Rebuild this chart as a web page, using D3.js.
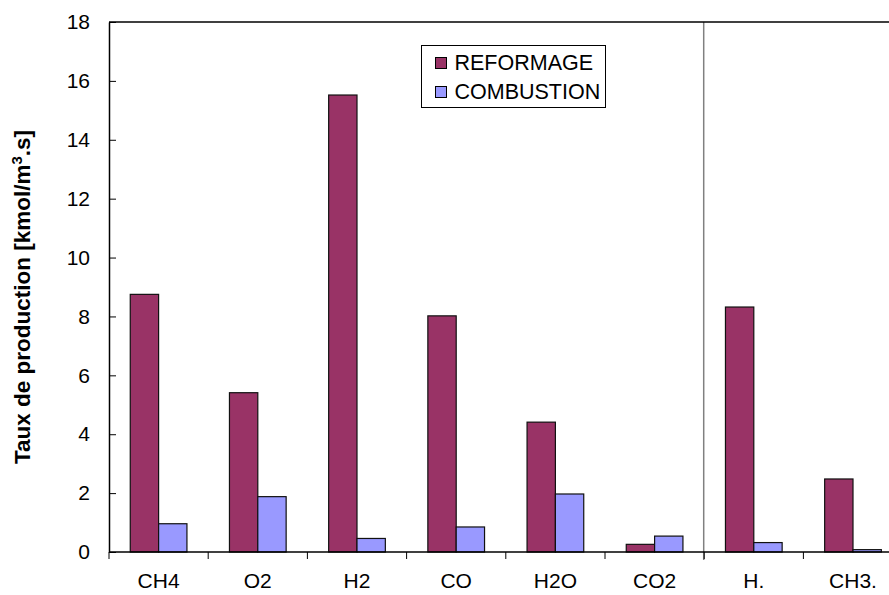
<!DOCTYPE html>
<html>
<head>
<meta charset="utf-8">
<script src="https://cdn.jsdelivr.net/npm/d3@7"></script>
<style>
  body { margin: 0; background: #fff; }
  svg { display: block; font-family: Arial, "Liberation Sans", sans-serif; }
</style>
</head>
<body>
<div class="chart"></div>
<script>
// data
const categories = ["CH4", "O2", "H2", "CO", "H2O", "CO2", "H.", "CH3."];
const series = ["REFORMAGE", "COMBUSTION"];
const reformage = [8.75, 5.41, 15.52, 8.02, 4.41, 0.26, 8.32, 2.48];
const combustion = [0.96, 1.88, 0.46, 0.85, 1.97, 0.54, 0.32, 0.08];
const yTicks = [0, 2, 4, 6, 8, 10, 12, 14, 16, 18];
const colors = ["#993366", "#9999FF"];

const width = 889;
const height = 595;
const margin = {top: 22, left: 109, bottom: 43};

const svg = d3.select('.chart').append('svg')
    .attr('width', width)
    .attr('height', height)
    .attr('viewBox', [0, 0, width, height]);

// x scales: plot runs past the right edge of the picture
const x0 = d3.scaleBand()
    .domain(categories)
    .range([margin.left, margin.left + 8 * 99.2]);

const x1 = d3.scaleBand()
    .domain(series)
    .range([0, x0.bandwidth()])
    .paddingOuter(0.75);

const y = d3.scaleLinear()
    .domain([0, 18])
    .range([height - margin.bottom, margin.top]);

const table = categories.map((c, i) => ({cat: c, values: [reformage[i], combustion[i]]}));

// bars
const groups = svg.append('g')
    .selectAll('g')
    .data(table)
    .join('g')
    .attr('transform', d => `translate(${x0(d.cat)},0)`);

groups.selectAll('rect')
    .data(d => d.values.map((v, j) => ({key: series[j], value: v, j: j})))
    .join('rect')
    .attr('x', d => x1(d.key))
    .attr('y', d => y(d.value))
    .attr('width', x1.bandwidth())
    .attr('height', d => y(0) - y(d.value))
    .attr('fill', d => colors[d.j])
    .attr('stroke', '#111')
    .attr('stroke-width', 1.2);

// separator between molecules and radicals
svg.append('line')
    .attr('x1', x0("H.") - 0.5)
    .attr('x2', x0("H.") - 0.5)
    .attr('y1', y(18))
    .attr('y2', y(0) + 8)
    .attr('stroke', '#808080')
    .attr('stroke-width', 1.5);

// top border
svg.append('line')
    .attr('x1', margin.left)
    .attr('x2', width)
    .attr('y1', y(18))
    .attr('y2', y(18))
    .attr('stroke', '#000')
    .attr('stroke-width', 1.5);

// y axis with inward ticks
const yAxis = svg.append('g')
    .attr('transform', `translate(${margin.left},0)`)
    .call(d3.axisLeft(y).tickValues(yTicks).tickSizeInner(-7).tickSizeOuter(0).tickPadding(19));
yAxis.select('.domain').attr('stroke-width', 1.5);
yAxis.selectAll('.tick text')
    .attr('font-size', 21)
    .attr('fill', '#000')
    .attr('font-family', 'Arial, "Liberation Sans", sans-serif');

// x axis: ticks at category boundaries
const xAxis = svg.append('g')
    .attr('transform', `translate(0,${y(0)})`);
xAxis.append('line')
    .attr('x1', margin.left)
    .attr('x2', width)
    .attr('stroke', '#000')
    .attr('stroke-width', 1.5);
xAxis.selectAll('line.tk')
    .data(categories)
    .join('line')
    .attr('class', 'tk')
    .attr('x1', d => x0(d))
    .attr('x2', d => x0(d))
    .attr('y1', 0)
    .attr('y2', 7)
    .attr('stroke', '#000');
xAxis.selectAll('text')
    .data(categories)
    .join('text')
    .attr('x', d => x0(d) + x0.bandwidth() / 2)
    .attr('y', 36)
    .attr('text-anchor', 'middle')
    .attr('font-size', 21)
    .text(d => d);

// y label with superscript
const yl = svg.append('text')
    .attr('transform', `translate(30,297) rotate(-90)`)
    .attr('text-anchor', 'middle')
    .attr('font-size', 22.5)
    .attr('font-weight', 'bold');
yl.append('tspan').text('Taux de production [kmol/m');
yl.append('tspan').attr('dy', -8).attr('font-size', 15).text('3');
yl.append('tspan').attr('dy', 8).text('.s]');

// legend
const legend = svg.append('g').attr('transform', 'translate(421.5,45.5)');
legend.append('rect')
    .attr('width', 184)
    .attr('height', 62)
    .attr('fill', '#fff')
    .attr('stroke', '#000');
series.forEach((s, i) => {
    legend.append('rect')
        .attr('x', 14)
        .attr('y', 12 + i * 29)
        .attr('width', 11)
        .attr('height', 11)
        .attr('fill', colors[i])
        .attr('stroke', '#000');
    legend.append('text')
        .attr('x', 33)
        .attr('y', 24 + i * 29)
        .attr('font-size', 21.5)
        .text(s);
});
</script>
</body>
</html>
